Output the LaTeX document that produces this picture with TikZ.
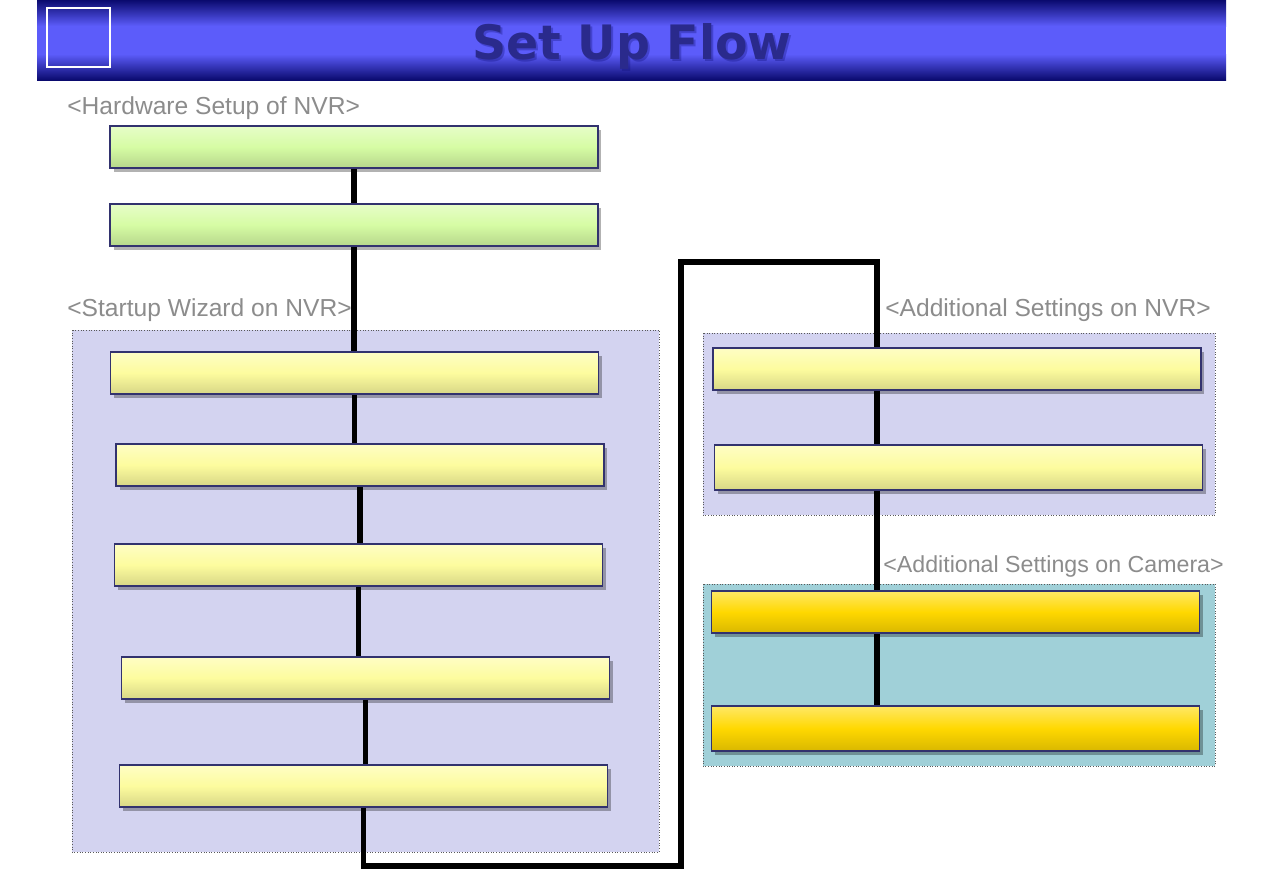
\documentclass[tikz,border=0pt]{standalone}
\usepackage{fontspec}
\setmainfont{Liberation Sans}
\newfontfamily\flowtitlefont{DejaVu Sans}
\usetikzlibrary{shadows}
\definecolor{bardark}{RGB}{10,10,110}
\definecolor{barlight}{RGB}{92,92,250}
\definecolor{titletext}{RGB}{42,42,140}
\definecolor{panelnvr}{RGB}{211,211,240}
\definecolor{panelcam}{RGB}{160,208,216}
\definecolor{boxgreen}{RGB}{214,252,164}
\definecolor{boxyellow}{RGB}{253,252,158}
\definecolor{boxgold}{RGB}{255,216,0}
\definecolor{boxline}{RGB}{50,50,110}
\definecolor{labelgrey}{RGB}{140,140,140}
\tikzset{
  flowbox/.style={draw=boxline, line width=0.9pt, minimum width=9.76cm, minimum height=0.84cm, inner sep=0pt,
    drop shadow={shadow xshift=2pt, shadow yshift=-2pt, fill=black, opacity=.3}},
  greenbox/.style={flowbox, top color=boxgreen!60!white, bottom color=boxgreen!85!black, middle color=boxgreen},
  yellowbox/.style={flowbox, top color=boxyellow!60!white, bottom color=boxyellow!85!black, middle color=boxyellow},
  goldbox/.style={flowbox, top color=boxgold!60!white, bottom color=boxgold!85!black, middle color=boxgold},
  panel/.style={draw=black!65, densely dotted, line width=0.5pt},
  grouplabel/.style={anchor=west, inner sep=0pt, text=labelgrey, font=\fontsize{14}{16}\selectfont},
  link/.style={draw=black, line width=3.4pt}
}
\begin{document}
\begin{tikzpicture}[x=0.02cm, y=-0.02cm]
\useasboundingbox[fill=white] (0,0) rectangle (1263,893);
\shade[top color=bardark, bottom color=barlight] (37,0) rectangle (1226,26);
\fill[barlight] (37,25.5) rectangle (1226,54.5);
\shade[top color=barlight, bottom color=bardark] (37,54) rectangle (1226,80);
\draw[white, line width=1.4pt] (47,8) rectangle (110,67);
\node[text=bardark, opacity=.3, font=\flowtitlefont\bfseries\fontsize{27}{30}\selectfont] (titleshadow) at (634,48) {Set Up Flow};
\node[text=titletext, font=\flowtitlefont\bfseries\fontsize{27}{30}\selectfont] (title) at (632,46) {Set Up Flow};

\draw[panel, fill=panelnvr] (72,330) rectangle (659,852);
\draw[panel, fill=panelnvr] (703,333) rectangle (1215,515);
\draw[panel, fill=panelcam] (703,584) rectangle (1215,766);

\node[grouplabel] (hwlabel) at (67,108) {<Hardware Setup of NVR>};
\node[grouplabel] (wizlabel) at (67,310) {<Startup Wizard on NVR>};
\node[grouplabel] (addlabel) at (885,310) {<Additional Settings on NVR>};
\node[grouplabel, font=\fontsize{13.2}{15}\selectfont] (camlabel) at (883,566) {<Additional Settings on Camera>};

\coordinate (lb) at (363,866);
\coordinate (rb) at (681,866);
\coordinate (rt) at (681,262);
\coordinate (rx) at (877,262);

\node[greenbox] (g1) at (354,147) {};
\node[greenbox] (g2) at (354,225) {};
\node[yellowbox] (w1) at (354.5,373) {};
\node[yellowbox] (w2) at (360,465) {};
\node[yellowbox] (w3) at (358.5,565) {};
\node[yellowbox] (w4) at (365.5,678) {};
\node[yellowbox] (w5) at (363.5,786) {};
\node[yellowbox] (a1) at (957,369) {};
\node[yellowbox, minimum height=0.9cm] (a2) at (958.5,467.5) {};
\node[goldbox] (c1) at (955.5,612) {};
\node[goldbox, minimum height=0.9cm] (c2) at (955.5,728.5) {};

\draw[link] (g1.south) -- (g1.south |- g2.north);
\draw[link] (g2.south) -- (g2.south |- w1.north);
\draw[link] (w1.south) -- (w1.south |- w2.north);
\draw[link] (w2.south) -- (w2.south |- w3.north);
\draw[link] (w3.south) -- (w3.south |- w4.north);
\draw[link] (w4.south) -- (w4.south |- w5.north);
\draw[link] (w5.south) -- (w5.south |- lb) -- (rb) -- (rt) -- (rx) -- (rx |- a1.north);
\draw[link] (a1.south -| rx) -- (a2.north -| rx);
\draw[link] (a2.south -| rx) -- (c1.north -| rx);
\draw[link] (c1.south -| rx) -- (c2.north -| rx);
\end{tikzpicture}
\end{document}
